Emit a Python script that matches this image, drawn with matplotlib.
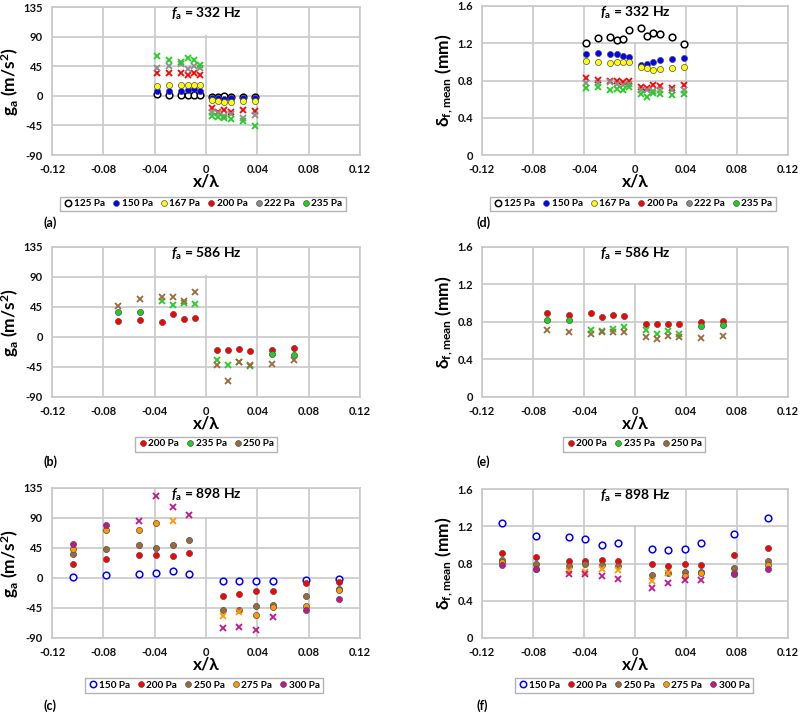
import numpy as np
import matplotlib.pyplot as plt
from matplotlib.lines import Line2D
from matplotlib.patches import Rectangle

plt.rcParams['font.family'] = ['Lato', 'DejaVu Sans']
plt.rcParams['font.weight'] = 'bold'
plt.rcParams['mathtext.fontset'] = 'custom'
plt.rcParams['mathtext.rm'] = 'Lato:bold'
plt.rcParams['mathtext.it'] = 'Lato:italic:bold'
plt.rcParams['mathtext.bf'] = 'Lato:bold'

# ---- data ----
x_332 = [-0.0385, -0.0289, -0.0193, -0.0144, -0.0096, -0.0048,
         0.0048, 0.0096, 0.0144, 0.0193, 0.0289, 0.0385]
x_586 = [-0.0687, -0.0515, -0.0344, -0.0258, -0.0172, -0.0086,
         0.0086, 0.0172, 0.0258, 0.0344, 0.0515, 0.0687]
x_898 = [-0.104, -0.078, -0.052, -0.039, -0.026, -0.013,
         0.013, 0.026, 0.039, 0.052, 0.078, 0.104]

labels_332 = ['125 Pa', '150 Pa', '167 Pa', '200 Pa', '222 Pa', '235 Pa']
labels_586 = ['200 Pa', '235 Pa', '250 Pa']
labels_898 = ['150 Pa', '200 Pa', '250 Pa', '275 Pa', '300 Pa']

# (a) g_a at 332 Hz
ga_332_125 = [3, 1, 1, 1, 1, 0.5, -2, -2, -1, -2, -2, -2]
ga_332_150 = [8, 8, 8, 9, 10, 8, -4, -3, -5, -4, -3, -3]
ga_332_167 = [15, 17, 17, 16, 16, 16, -7, -8, -10, -10, -8, -8]
ga_332_200 = [34, 34, 35, 32, 34, 32, -18, -24, -21, -24, -22, -23]
ga_332_222 = [43, 45, 49, 41, 46, 42, -25, -26, -30, -28, -33, -29]
ga_332_235 = [61, 55, 51, 58, 54, 47, -30, -32, -34, -35, -38, -46]
mk_332 = ['oooooooooooo'] * 3 + ['xxxxxxxxxxxx'] * 3

# (d) delta at 332 Hz
d_332_125 = [1.20, 1.26, 1.27, 1.23, 1.25, 1.345, 1.36, 1.28, 1.305, 1.295, 1.27, 1.19]
d_332_150 = [1.08, 1.09, 1.08, 1.08, 1.065, 1.055, 0.97, 0.977, 1.0, 1.02, 1.03, 1.044]
d_332_167 = [1.01, 1.0, 0.99, 1.0, 0.995, 0.995, 0.94, 0.93, 0.917, 0.924, 0.93, 0.94]
d_332_200 = [0.825, 0.807, 0.79, 0.80, 0.782, 0.80, 0.73, 0.722, 0.754, 0.736, 0.718, 0.754]
d_332_222 = [0.772, 0.772, 0.782, 0.765, 0.747, 0.765, 0.694, 0.694, 0.687, 0.70, 0.694, 0.694]
d_332_235 = [0.722, 0.73, 0.694, 0.71, 0.70, 0.73, 0.658, 0.623, 0.665, 0.65, 0.64, 0.65]

# (b) g_a at 586 Hz
ga_586_200 = [24, 25, 22, 34, 27, 28.5, -20, -20, -18, -21.5, -19, -16.5]
ga_586_235 = [37, 37, 54, 48.5, 51, 50, -34, -41.5, -37.5, -43, -26, -27]
ga_586_250 = [46.5, 57.5, 60, 60, 53.5, 67.5, -41.5, -66, -38, -42.5, -40, -34]
mk_586 = ['oooooooooooo', 'ooxxxxxxxxoo', 'xxxxxxxxxxxx']

# (e) delta at 586 Hz
d_586_200 = [0.896, 0.871, 0.896, 0.853, 0.871, 0.868, 0.775, 0.779, 0.782, 0.779, 0.796, 0.81]
d_586_235 = [0.818, 0.818, 0.718, 0.70, 0.722, 0.747, 0.711, 0.676, 0.70, 0.676, 0.757, 0.764]
d_586_250 = [0.718, 0.693, 0.676, 0.693, 0.697, 0.693, 0.64, 0.622, 0.647, 0.635, 0.629, 0.654]

# (c) g_a at 898 Hz
ga_898_150 = [2, 4, 6, 7, 10, 6.5, -4, -4.5, -4.5, -4, -2.5, -1.5]
ga_898_200 = [21, 28.5, 34.5, 34.5, 33.5, 37.5, -27, -24, -20, -20, -8, -5.5]
ga_898_250 = [36, 43.5, 49.5, 45, 50, 56.5, -48.5, -48.5, -42.5, -40.5, -27, -16.5]
ga_898_275 = [43.5, 71.5, 72.5, 82.5, 86, np.nan, -57.5, -51.5, -56, -44, -42.5, -17.5]
ga_898_300 = [51, 80, 85, 122.5, 106, 95, -74.5, -73, -77.5, -58, -48.5, -32]
mk_898_a = ['oooooooooooo', 'oooooooooooo', 'oooooooooooo',
            'ooooxxxxoooo', 'ooxxxxxxxxoo']

# (f) delta at 898 Hz
d_898_150 = [1.236, 1.096, 1.082, 1.061, 1.004, 1.018, 0.961, 0.95, 0.961, 1.018, 1.114, 1.293]
d_898_200 = [0.918, 0.868, 0.832, 0.832, 0.839, 0.825, 0.796, 0.768, 0.796, 0.779, 0.889, 0.964]
d_898_250 = [0.839, 0.80, 0.775, 0.80, 0.782, 0.775, 0.679, 0.696, 0.704, 0.714, 0.754, 0.825]
d_898_275 = [0.821, 0.745, 0.721, 0.714, 0.739, 0.732, 0.611, 0.693, 0.668, 0.696, 0.70, 0.782]
d_898_300 = [0.782, 0.743, 0.682, 0.689, 0.661, 0.632, 0.539, 0.593, 0.618, 0.621, 0.689, 0.739]
mk_898_d = ['oooooooooooo', 'oooooooooooo', 'oooooooooooo',
            'ooxxxxxxoooo', 'ooxxxxxxxxoo']

xticks = [-0.12, -0.08, -0.04, 0, 0.04, 0.08, 0.12]
xticklabels = ['-0.12', '-0.08', '-0.04', '0', '0.04', '0.08', '0.12']
ga_ticks = [-90, -45, 0, 45, 90, 135]
d_ticks = [0, 0.4, 0.8, 1.2, 1.6]
d_ticklabels = ['0', '0.4', '0.8', '1.2', '1.6']

colors = {'125 Pa': 'black', '150 Pa': '#0000ff', '167 Pa': '#ffff00',
          '200 Pa': '#ff0000', '222 Pa': '#8c8c8c', '235 Pa': '#1fd01f',
          '250 Pa': '#9c6a3a', '275 Pa': '#ff9900', '300 Pa': '#c4148e'}
GRID = '#c8c8c8'


def draw_panel(rect, x, labels, vals, marks, open_label, yticks, yticklabels,
               ylabel, title, box_bottom, leg_xy, letter, letter_xy):
    ax = fig.add_axes(rect)
    x = np.asarray(x)
    for lab, v, m in zip(labels, vals, marks):
        c = colors[lab]
        v = np.asarray(v, dtype=float)
        m = np.array(list(m))
        io = m == 'o'
        ix = m == 'x'
        if lab == open_label:
            ax.plot(x[io], v[io], 'o', ls='none', ms=4.8, mfc='white', mec=c,
                    mew=1.1, zorder=3)
        else:
            ax.plot(x[io], v[io], 'o', ls='none', ms=4.4, mfc=c, mec='#505050',
                    mew=0.5, zorder=3)
        ax.plot(x[ix], v[ix], 'x', ls='none', ms=4.2, mec=c, mew=1.3, zorder=3)

    ax.set_xlim(-0.12, 0.12)
    ax.set_ylim(yticks[0], yticks[-1])
    ax.set_xticks(xticks)
    ax.set_xticklabels(xticklabels)
    ax.set_yticks(yticks)
    ax.set_yticklabels(yticklabels)
    ax.tick_params(length=0, labelsize=8, pad=6.5, colors='#111111')
    ax.grid(True, color=GRID, lw=1.2)
    for s in ax.spines.values():
        s.set_color(GRID)
        s.set_linewidth(1.2)
    ax.set_xlabel('x/λ', fontsize=12.5, fontweight='bold', labelpad=-1)
    ax.set_ylabel(ylabel, fontsize=12.5, fontweight='bold', labelpad=2)

    # white box behind the title hides the central grid line
    ax.add_patch(Rectangle((0.37, box_bottom), 0.26, 0.995 - box_bottom,
                           transform=ax.transAxes, fc='white', ec='none', zorder=2))
    ax.text(0.5, 0.955, title, transform=ax.transAxes, ha='center', va='center',
            fontsize=10, fontweight='bold', zorder=4)

    handles = []
    for lab in labels:
        c = colors[lab]
        if lab == open_label:
            h = Line2D([], [], marker='o', ls='none', ms=4.6, mfc='white', mec=c, mew=1.1)
        else:
            h = Line2D([], [], marker='o', ls='none', ms=4.2, mfc=c, mec='#505050', mew=0.5)
        handles.append(h)
    leg = fig.legend(handles, labels, loc='center', ncol=len(labels),
                     bbox_to_anchor=(leg_xy[0] / 800, 1 - leg_xy[1] / 712),
                     fontsize=7.2, fancybox=False, edgecolor='#a0a0a0',
                     handletextpad=0.05, columnspacing=0.6, borderpad=0.3,
                     handlelength=1.0, borderaxespad=0)
    leg.get_frame().set_linewidth(1.0)
    fig.text(letter_xy[0] / 800, 1 - letter_xy[1] / 712, letter, fontsize=9,
             fontweight='bold', ha='left', va='center')
    return ax


fig = plt.figure(figsize=(8, 7.12), dpi=100)

ga_label = r'g$_{\rm a}$ (m/s$^{\rm 2}$)'
d_label = r'δ$_{\rm f,mean}$ (mm)'
ga_ticklabels = [str(t) for t in ga_ticks]

draw_panel([52 / 800, 1 - 155 / 712, 308 / 800, 148 / 712], x_332, labels_332,
           [ga_332_125, ga_332_150, ga_332_167, ga_332_200, ga_332_222, ga_332_235],
           mk_332, '125 Pa', ga_ticks, ga_ticklabels, ga_label,
           r'$f_{\rm a}$ = 332 Hz', 0.81, (203, 204), '(a)', (43, 223))
draw_panel([482 / 800, 1 - 155 / 712, 306 / 800, 149 / 712], x_332, labels_332,
           [d_332_125, d_332_150, d_332_167, d_332_200, d_332_222, d_332_235],
           mk_332, '125 Pa', d_ticks, d_ticklabels, d_label,
           r'$f_{\rm a}$ = 332 Hz', 0.76, (633, 204), '(d)', (477, 223))
draw_panel([52 / 800, 1 - 397 / 712, 308 / 800, 150 / 712], x_586, labels_586,
           [ga_586_200, ga_586_235, ga_586_250],
           mk_586, None, ga_ticks, ga_ticklabels, ga_label,
           r'$f_{\rm a}$ = 586 Hz', 0.81, (206, 444), '(b)', (43, 462))
draw_panel([482 / 800, 1 - 397 / 712, 306 / 800, 150 / 712], x_586, labels_586,
           [d_586_200, d_586_235, d_586_250],
           mk_586, None, d_ticks, d_ticklabels, d_label,
           r'$f_{\rm a}$ = 586 Hz', 0.76, (634, 444), '(e)', (477, 462))
draw_panel([52 / 800, 1 - 638 / 712, 308 / 800, 150 / 712], x_898, labels_898,
           [ga_898_150, ga_898_200, ga_898_250, ga_898_275, ga_898_300],
           mk_898_a, '150 Pa', ga_ticks, ga_ticklabels, ga_label,
           r'$f_{\rm a}$ = 898 Hz', 0.81, (204, 685), '(c)', (43, 706))
draw_panel([482 / 800, 1 - 638 / 712, 306 / 800, 149 / 712], x_898, labels_898,
           [d_898_150, d_898_200, d_898_250, d_898_275, d_898_300],
           mk_898_d, '150 Pa', d_ticks, d_ticklabels, d_label,
           r'$f_{\rm a}$ = 898 Hz', 0.76, (634, 685), '(f)', (477, 706))

fig.savefig('out.png', dpi=100)
